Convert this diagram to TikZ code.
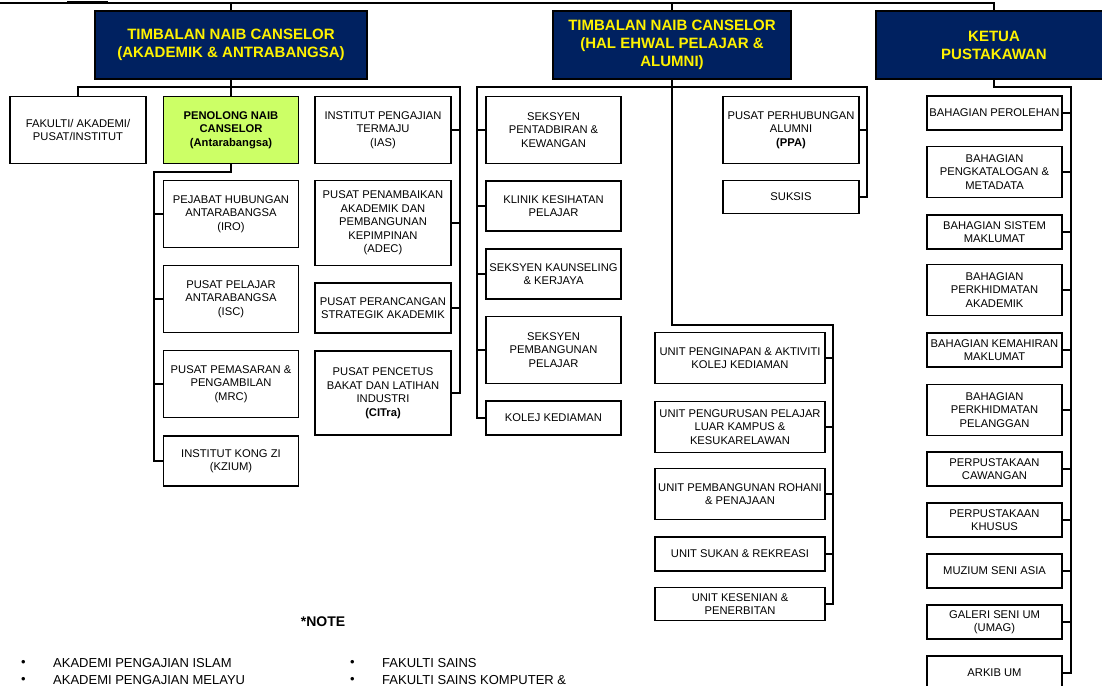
\documentclass[tikz,border=0pt]{standalone}
\usepackage{fontspec}
\setmainfont{Liberation Sans}
\definecolor{navy}{RGB}{0,33,96}
\definecolor{lime}{RGB}{204,255,102}

\begin{document}
\begin{tikzpicture}[x=1pt,y=-1pt,
  headbox/.style={draw, line width=1.2pt, fill=navy, text=yellow, align=center, inner sep=0pt,
    font=\bfseries\fontsize{15}{18}\selectfont, minimum height=68},
  unitbox/.style={draw, line width=1.2pt, fill=white, align=center, inner sep=0pt,
    font=\fontsize{11.2}{13.5}\selectfont, minimum width=135},
  pncbox/.style={unitbox, fill=lime, font=\bfseries\fontsize{11.2}{13.5}\selectfont},
  notetext/.style={anchor=west, inner sep=0pt, font=\fontsize{13}{16}\selectfont},
  link/.style={line width=1.4pt}]
\useasboundingbox (0,0) rectangle (1102,685);

\node[headbox, minimum width=272] (tnc1) at (231,45) {TIMBALAN NAIB CANSELOR\\(AKADEMIK \& ANTRABANGSA)};
\node[headbox, minimum width=238] (tnc2) at (672,45) {TIMBALAN NAIB CANSELOR\\(HAL EHWAL PELAJAR \&\\ALUMNI)};
\node[headbox, minimum width=236] (ketua) at (994,45) {KETUA\\PUSTAKAWAN};

\node[unitbox, minimum width=136, minimum height=67] (fak) at (78,130) {FAKULTI/ AKADEMI/\\PUSAT/INSTITUT};
\node[pncbox, minimum height=67] (pnc) at (231,130) {PENOLONG NAIB\\CANSELOR\\(Antarabangsa)};
\node[unitbox, minimum width=136, minimum height=67] (ias) at (383,130) {INSTITUT PENGAJIAN\\TERMAJU\\(IAS)};
\node[unitbox, minimum width=136, minimum height=85] (adec) at (383,223) {PUSAT PENAMBAIKAN\\AKADEMIK DAN\\PEMBANGUNAN\\KEPIMPINAN\\(ADEC)};
\node[unitbox, minimum width=136, minimum height=50] (psa) at (383,308) {PUSAT PERANCANGAN\\STRATEGIK AKADEMIK};
\node[unitbox, minimum width=136, minimum height=84] (citra) at (383,393) {PUSAT PENCETUS\\BAKAT DAN LATIHAN\\INDUSTRI\\\textbf{(CITra)}};

\node[unitbox, minimum height=67] (iro) at (231,214) {PEJABAT HUBUNGAN\\ANTARABANGSA\\(IRO)};
\node[unitbox, minimum height=67] (isc) at (231,299) {PUSAT PELAJAR\\ANTARABANGSA\\(ISC)};
\node[unitbox, minimum height=67] (mrc) at (231,384) {PUSAT PEMASARAN \&\\PENGAMBILAN\\(MRC)};
\node[unitbox, minimum height=50] (kzium) at (231,461) {INSTITUT KONG ZI\\(KZIUM)};

\node[unitbox, minimum height=67] (spk) at (553.5,130) {SEKSYEN\\PENTADBIRAN \&\\KEWANGAN};
\node[unitbox, minimum height=50] (klinik) at (553.5,206) {KLINIK KESIHATAN\\PELAJAR};
\node[unitbox, minimum height=50] (kaunseling) at (553.5,274) {SEKSYEN KAUNSELING\\\& KERJAYA};
\node[unitbox, minimum height=67] (spp) at (553.5,350) {SEKSYEN\\PEMBANGUNAN\\PELAJAR};
\node[unitbox, minimum height=34] (kolej) at (553.5,418) {KOLEJ KEDIAMAN};

\node[unitbox, minimum width=136, minimum height=67] (ppa) at (791,130) {PUSAT PERHUBUNGAN\\ALUMNI\\\textbf{(PPA)}};
\node[unitbox, minimum width=136, minimum height=33] (suksis) at (791,197) {SUKSIS};

\node[unitbox, minimum width=170, minimum height=51] (u1) at (740,358) {UNIT PENGINAPAN \& AKTIVITI\\KOLEJ KEDIAMAN};
\node[unitbox, minimum width=170, minimum height=51] (u2) at (740,427) {UNIT PENGURUSAN PELAJAR\\LUAR KAMPUS \&\\KESUKARELAWAN};
\node[unitbox, minimum width=170, minimum height=51] (u3) at (740,494) {UNIT PEMBANGUNAN ROHANI\\\& PENAJAAN};
\node[unitbox, minimum width=170, minimum height=34] (u4) at (740,554) {UNIT SUKAN \& REKREASI};
\node[unitbox, minimum width=170, minimum height=33] (u5) at (740,604) {UNIT KESENIAN \&\\PENERBITAN};

\node[unitbox, minimum height=34] (l1) at (994.5,113) {BAHAGIAN PEROLEHAN};
\node[unitbox, minimum height=51] (l2) at (994.5,172) {BAHAGIAN\\PENGKATALOGAN \&\\METADATA};
\node[unitbox, minimum height=34] (l3) at (994.5,232) {BAHAGIAN SISTEM\\MAKLUMAT};
\node[unitbox, minimum height=51] (l4) at (994.5,290) {BAHAGIAN\\PERKHIDMATAN\\AKADEMIK};
\node[unitbox, minimum height=34] (l5) at (994.5,350) {BAHAGIAN KEMAHIRAN\\MAKLUMAT};
\node[unitbox, minimum height=51] (l6) at (994.5,410) {BAHAGIAN\\PERKHIDMATAN\\PELANGGAN};
\node[unitbox, minimum height=34] (l7) at (994.5,469) {PERPUSTAKAAN\\CAWANGAN};
\node[unitbox, minimum height=34] (l8) at (994.5,520) {PERPUSTAKAAN\\KHUSUS};
\node[unitbox, minimum height=34] (l9) at (994.5,571) {MUZIUM SENI ASIA};
\node[unitbox, minimum height=34] (l10) at (994.5,622) {GALERI SENI UM\\(UMAG)};
\node[unitbox, minimum height=34] (l11) at (994.5,673) {ARKIB UM};

\coordinate (topa) at (0,3);
\coordinate (busa) at (460,87);
\coordinate (busb) at (154,172);
\coordinate (busc) at (477,87);
\coordinate (busd) at (867,87);
\coordinate (buse) at (833,325);
\coordinate (busf) at (1071,87);

\draw[link] (topa) -| (ketua.north);
\draw[line width=2.6pt] (67,2) -- (108,2);
\draw[link] (tnc1.north) -- (tnc1.north |- topa);
\draw[link] (tnc2.north) -- (tnc2.north |- topa);

\draw[link] (tnc1.south) |- (busa) -- (busa |- citra.east) -- (citra.east);
\draw[link] (tnc1.south |- busa) -| (fak.north);
\draw[link] (tnc1.south) -- (pnc.north);
\draw[link] (ias.east) -- (ias.east -| busa);
\draw[link] (adec.east) -- (adec.east -| busa);
\draw[link] (psa.east) -- (psa.east -| busa);

\draw[link] (pnc.south) |- (busb) -- (busb |- kzium.west) -- (kzium.west);
\draw[link] (iro.west) -- (iro.west -| busb);
\draw[link] (isc.west) -- (isc.west -| busb);
\draw[link] (mrc.west) -- (mrc.west -| busb);

\draw[link] (kolej.west) -- (kolej.west -| busc) -- (busc) -- (busd) -- (busd |- suksis.east) -- (suksis.east);
\draw[link] (spk.west) -- (spk.west -| busc);
\draw[link] (klinik.west) -- (klinik.west -| busc);
\draw[link] (kaunseling.west) -- (kaunseling.west -| busc);
\draw[link] (spp.west) -- (spp.west -| busc);
\draw[link] (ppa.east) -- (ppa.east -| busd);

\draw[link] (tnc2.south) |- (buse) -- (buse |- u5.east) -- (u5.east);
\draw[link] (u1.east) -- (u1.east -| buse);
\draw[link] (u2.east) -- (u2.east -| buse);
\draw[link] (u3.east) -- (u3.east -| buse);
\draw[link] (u4.east) -- (u4.east -| buse);

\draw[link] (ketua.south) |- (busf) -- (busf |- l11.east) -- (l11.east);
\draw[link] (l1.east) -- (l1.east -| busf);
\draw[link] (l2.east) -- (l2.east -| busf);
\draw[link] (l3.east) -- (l3.east -| busf);
\draw[link] (l4.east) -- (l4.east -| busf);
\draw[link] (l5.east) -- (l5.east -| busf);
\draw[link] (l6.east) -- (l6.east -| busf);
\draw[link] (l7.east) -- (l7.east -| busf);
\draw[link] (l8.east) -- (l8.east -| busf);
\draw[link] (l9.east) -- (l9.east -| busf);
\draw[link] (l10.east) -- (l10.east -| busf);

\node[font=\bfseries\fontsize{14}{16}\selectfont] (note) at (323,622) {*NOTE};
\node[notetext] (b1) at (21,663) {\textbullet};
\node[notetext] (n1) at (53,663) {AKADEMI PENGAJIAN ISLAM};
\node[notetext] (b2) at (21,680) {\textbullet};
\node[notetext] (n2) at (53,680) {AKADEMI PENGAJIAN MELAYU};
\node[notetext] (b3) at (350,663) {\textbullet};
\node[notetext] (n3) at (382,663) {FAKULTI SAINS};
\node[notetext] (b4) at (350,680) {\textbullet};
\node[notetext] (n4) at (382,680) {FAKULTI SAINS KOMPUTER \&};
\end{tikzpicture}
\end{document}
